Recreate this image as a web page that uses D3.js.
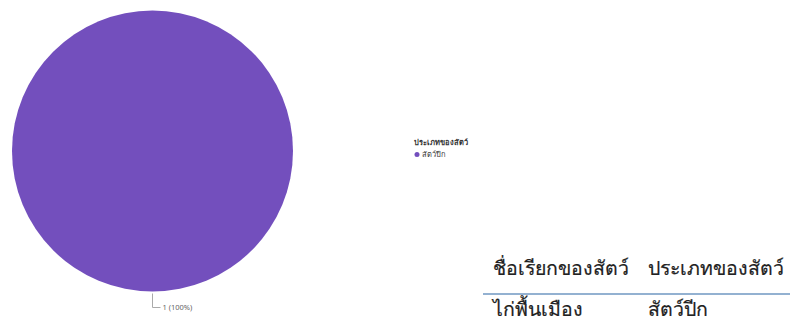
<!DOCTYPE html>
<html>
<head>
<meta charset="utf-8">
<script src="https://cdn.jsdelivr.net/npm/d3@7"></script>
<style>
  body { margin: 0; background: #fff; }
  svg { display: block; }
</style>
</head>
<body>
<div id="chart"></div>
<script>
// Pie of animal types, with a small legend and a one-row table beside it.
var categories = ['สัตว์ปีก'];
var counts = [1];
var legendTitle = 'ประเภทของสัตว์';
var tableHeaders = ['ชื่อเรียกของสัตว์', 'ประเภทของสัตว์'];
var tableRows = [['ไก่พื้นเมือง', 'สัตว์ปีก']];

var W = 790, H = 320;
var FONT = "'Noto Sans', 'DejaVu Sans', sans-serif";
var color = d3.scaleOrdinal().domain(categories).range(['#734fbd']);

var svg = d3.select('#chart').append('svg')
    .attr('width', W).attr('height', H);

// Pie
var cx = 152.5, cy = 151, r = 140.5;
var total = d3.sum(counts);
var pie = d3.pie().sort(null).value(function (d) { return d; });
var arc = d3.arc().innerRadius(0).outerRadius(r);
var arcs = pie(counts);

var g = svg.append('g').attr('transform', 'translate(' + cx + ',' + cy + ')');
g.selectAll('path').data(arcs).join('path')
    .attr('d', arc)
    .attr('fill', function (d, i) { return color(categories[i]); });

// Leader line + label under the slice
arcs.forEach(function (d) {
    var mid = (d.startAngle + d.endAngle) / 2;
    var px = Math.sin(mid) * r, py = -Math.cos(mid) * r;
    g.append('path')
        .attr('d', 'M' + px + ',' + (py + 2) + 'V' + (py + 16) + 'h8')
        .attr('fill', 'none').attr('stroke', '#aaa').attr('stroke-width', 1);
    g.append('text')
        .attr('x', px + 10).attr('y', py + 18.5)
        .attr('font-family', FONT).attr('font-size', 7.5)
        .attr('fill', '#666')
        .text(d.data + ' (' + d3.format('.0%')(d.data / total) + ')');
});

// Legend
var lg = svg.append('g').attr('transform', 'translate(414,145)');
lg.append('text')
    .attr('font-family', FONT).attr('font-size', 7.5).attr('font-weight', 'bold')
    .attr('fill', '#333').text(legendTitle);
var li = lg.selectAll('g.item').data(categories).join('g')
    .attr('class', 'item')
    .attr('transform', function (d, i) { return 'translate(0,' + (12 + i * 10) + ')'; });
li.append('circle').attr('cx', 3).attr('cy', -2.5).attr('r', 2.5)
    .attr('fill', function (d) { return color(d); });
li.append('text').attr('x', 8)
    .attr('font-family', FONT).attr('font-size', 7.5)
    .attr('fill', '#333').text(function (d) { return d; });

// Table
var colX = [493, 648];
var tg = svg.append('g');
tg.selectAll('text.h').data(tableHeaders).join('text')
    .attr('class', 'h')
    .attr('x', function (d, i) { return colX[i]; }).attr('y', 275)
    .attr('font-family', FONT).attr('font-size', 19.5)
    .attr('fill', '#222').attr('stroke', '#222').attr('stroke-width', 0.2)
    .text(function (d) { return d; });
tg.append('line')
    .attr('x1', 483).attr('x2', 790).attr('y1', 294).attr('y2', 294)
    .attr('stroke', '#6f97c2').attr('stroke-width', 1.5);
tableRows.forEach(function (row, ri) {
    tg.selectAll('text.r' + ri).data(row).join('text')
        .attr('class', 'r' + ri)
        .attr('x', function (d, i) { return colX[i]; }).attr('y', 316 + ri * 30)
        .attr('font-family', FONT).attr('font-size', 19.5)
        .attr('fill', '#222').attr('stroke', '#222').attr('stroke-width', 0.2)
        .text(function (d) { return d; });
});
</script>
</body>
</html>
